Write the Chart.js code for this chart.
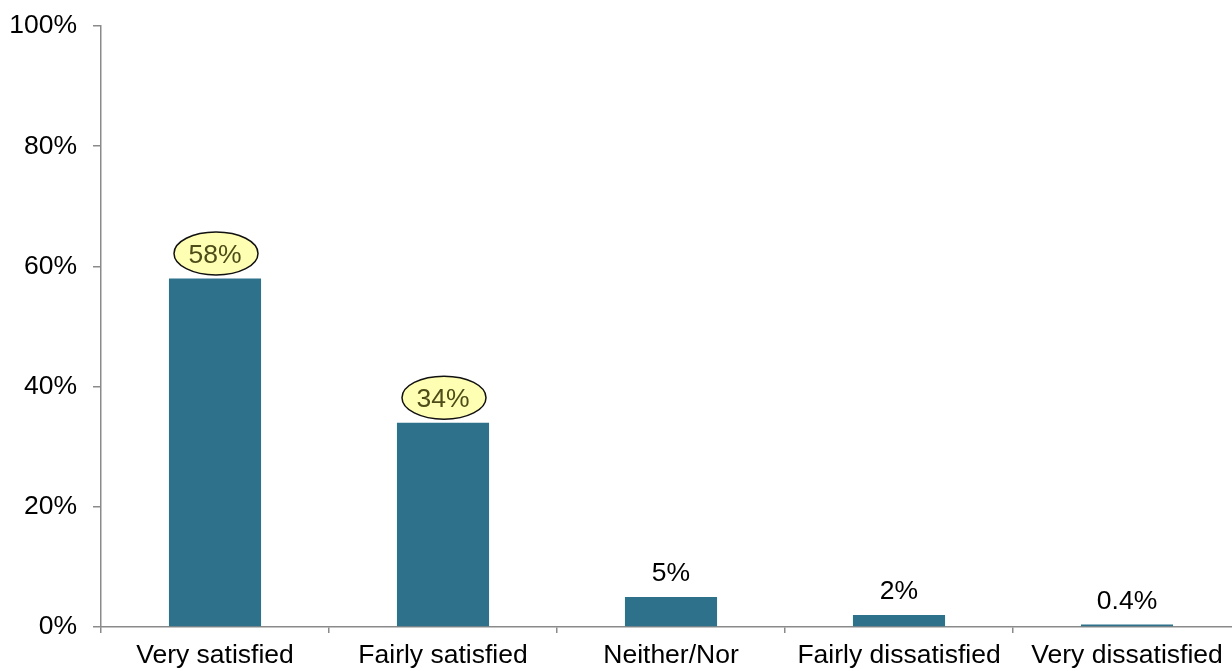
<!DOCTYPE html>
<html>
<head>
<meta charset="utf-8">
<script src="https://cdn.jsdelivr.net/npm/chart.js@4/dist/chart.umd.min.js"></script>
<style>
  html, body { margin: 0; padding: 0; background: #fff; overflow: hidden; }
  #wrap { position: relative; width: 1241px; height: 671px; }
</style>
</head>
<body>
<div id="wrap"><canvas id="satChart"></canvas></div>
<script>
const categories = ["Very satisfied", "Fairly satisfied", "Neither/Nor", "Fairly dissatisfied", "Very dissatisfied"];
const values = [58, 34, 5, 2, 0.4];
// which labels get the yellow bubble
const highlighted = [true, true, false, false, false];

// Plugin: value labels above the bars, some inside an ellipse
const valueLabelPlugin = {
  id: 'valueLabels',
  afterDatasetsDraw(chart) {
    const { ctx } = chart;
    const meta = chart.getDatasetMeta(0);
    ctx.save();
    ctx.font = "26.5px 'Liberation Sans', Arial, sans-serif";
    ctx.textAlign = "center";
    ctx.textBaseline = "middle";
    meta.data.forEach((bar, i) => {
      const txt = values[i] + "%";
      const cy = bar.y - 24;
      if (highlighted[i]) {
        ctx.beginPath();
        ctx.ellipse(bar.x + 1, cy - 1, 42, 21.5, 0, 0, Math.PI * 2);
        ctx.fillStyle = "#ffffb3";
        ctx.fill();
        ctx.lineWidth = 1.5;
        ctx.strokeStyle = "#111";
        ctx.stroke();
        ctx.fillStyle = "#4d4d19";
      } else {
        ctx.fillStyle = "#000";
      }
      ctx.fillText(txt, bar.x, cy + 1);
    });
    ctx.restore();
  }
};

const axisColor = "#8a8a8a";
const tickFont = { family: "'Liberation Sans', Arial, sans-serif", size: 26.5 };

new Chart(document.getElementById("satChart"), {
  type: "bar",
  data: {
    labels: categories,
    datasets: [{
      data: values,
      backgroundColor: "#2e718b",
      categoryPercentage: 1,
      barPercentage: 0.404
    }]
  },
  options: {
    responsive: true,
    maintainAspectRatio: false,
    animation: false,
    layout: { padding: { top: 26, right: 0, bottom: 0, left: 0 } },
    plugins: { legend: { display: false }, tooltip: { enabled: false } },
    scales: {
      x: {
        offset: true,
        grid: { offset: true, drawOnChartArea: false, tickLength: 6, color: axisColor, lineWidth: 1.5 },
        border: { color: axisColor, width: 1.5 },
        ticks: { color: "#000", font: tickFont, padding: 7, autoSkip: false, maxRotation: 0 },
        afterFit(scale) { scale.height = 44; }
      },
      y: {
        min: 0,
        max: 100,
        grid: { drawOnChartArea: false, tickLength: 8, color: axisColor, lineWidth: 1.5 },
        border: { color: axisColor, width: 1.5 },
        ticks: {
          stepSize: 20,
          color: "#000",
          font: { family: tickFont.family, size: 26.5, lineHeight: 0.9 },
          padding: 16,
          callback: v => v + "%"
        },
        afterFit(scale) { scale.width = 101; scale.paddingTop = 0; }
      }
    }
  },
  plugins: [valueLabelPlugin]
});
</script>
</body>
</html>
